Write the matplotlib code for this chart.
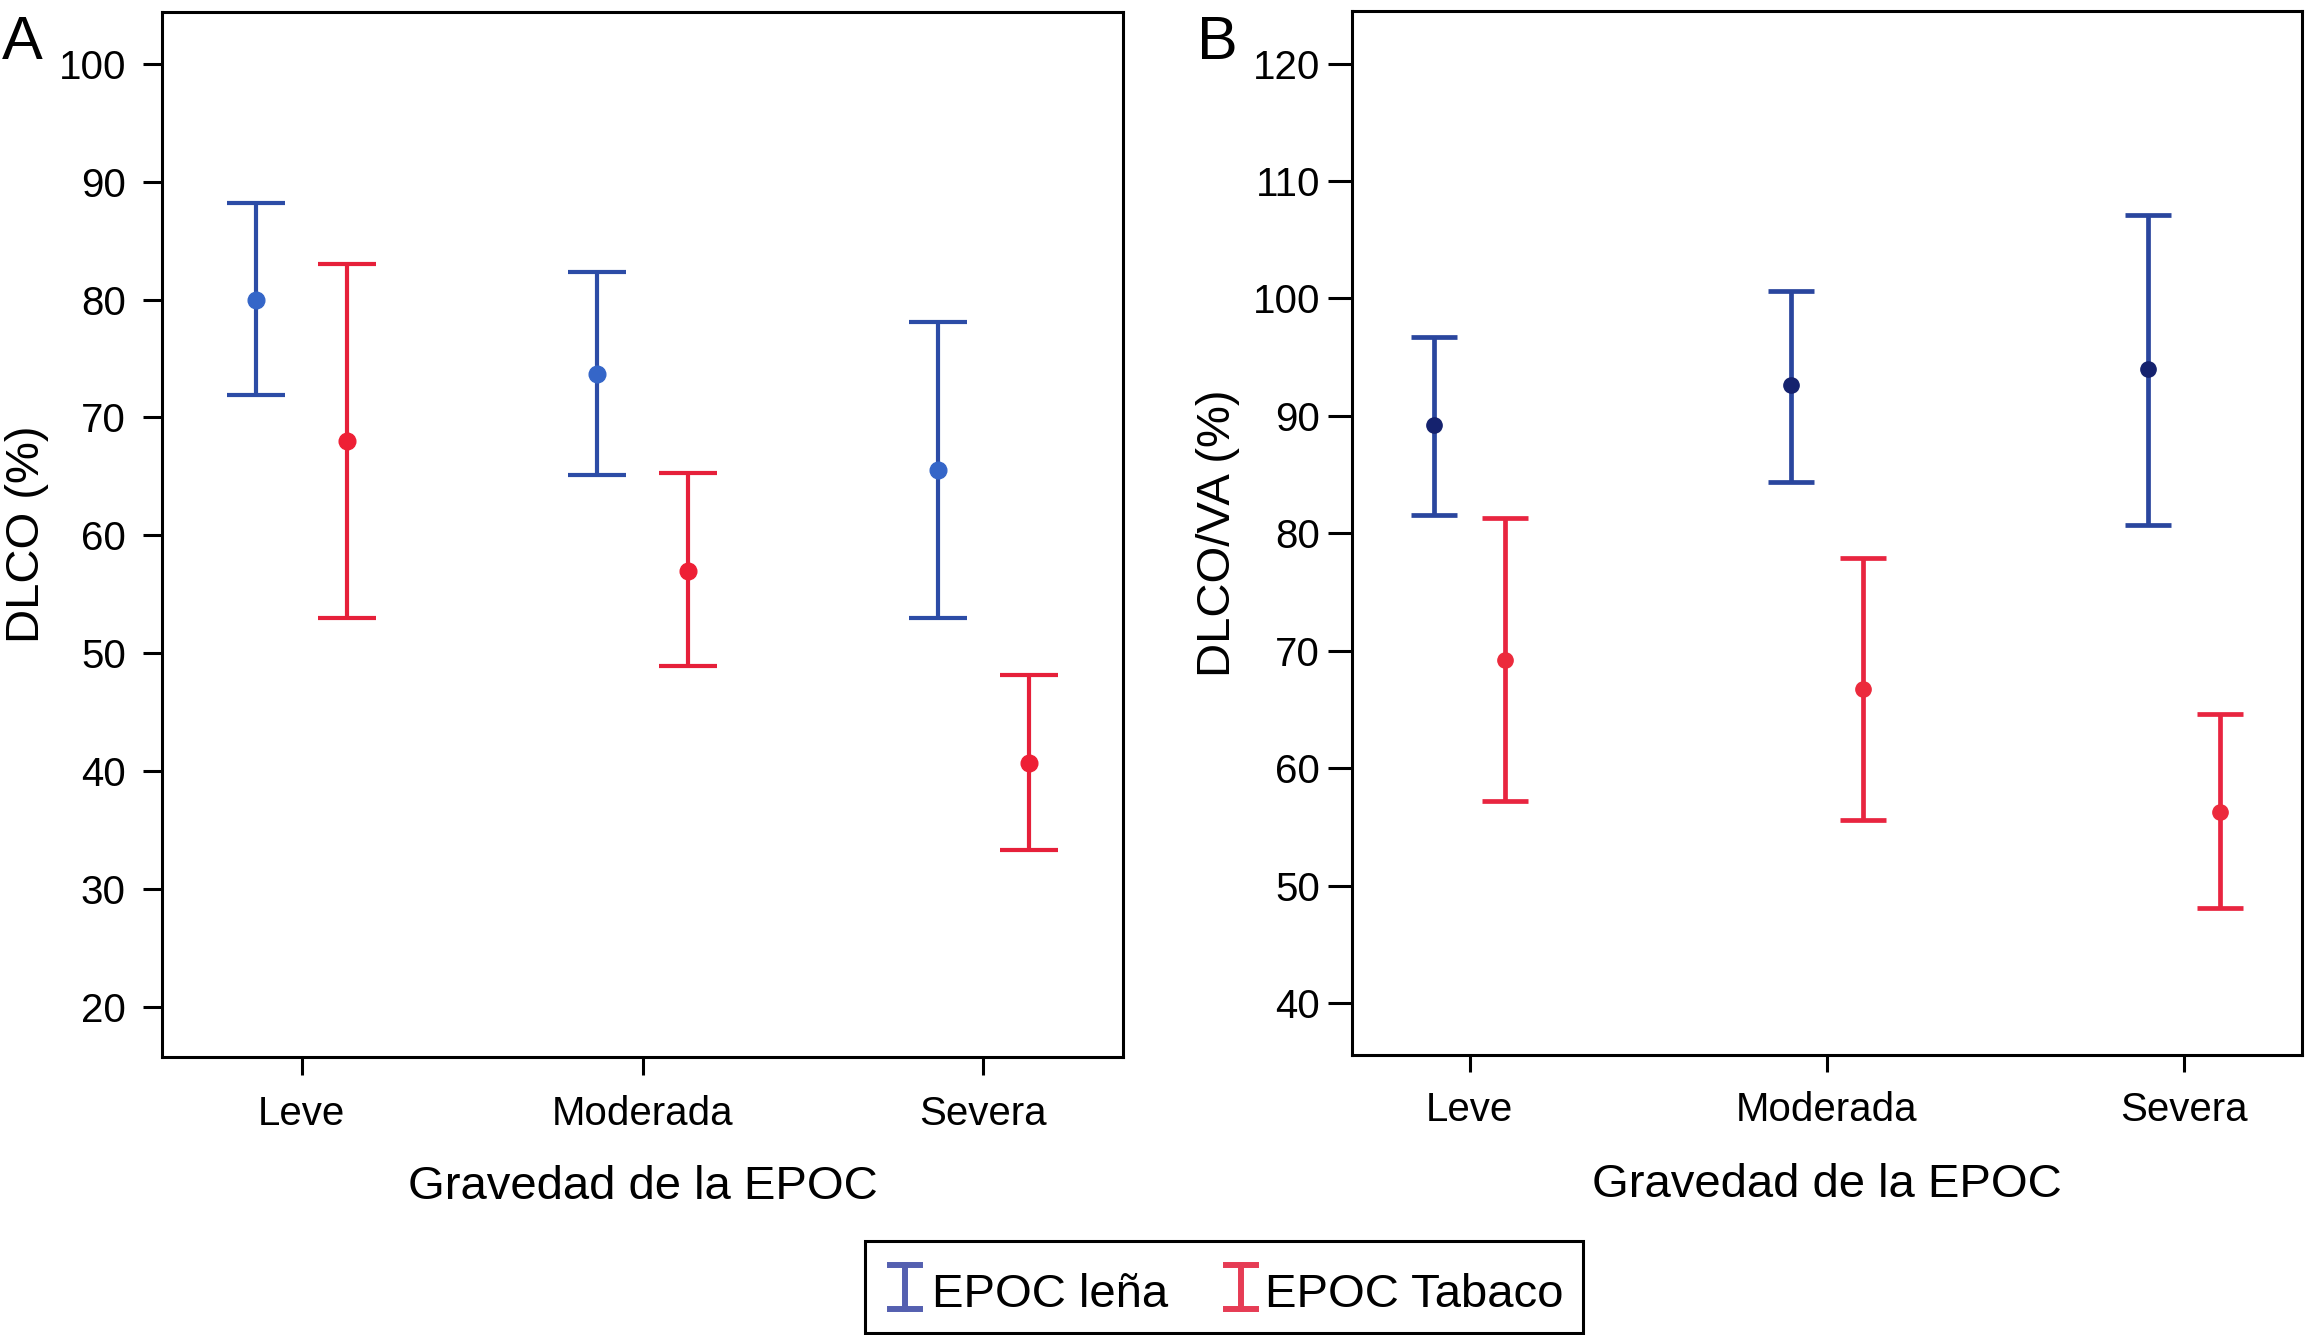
import matplotlib
matplotlib.use("Agg")
import matplotlib.pyplot as plt
from matplotlib.lines import Line2D
from matplotlib.patches import Rectangle
import numpy as np

plt.rcParams['font.family'] = ['Liberation Sans', 'DejaVu Sans']

categories = ["Leve", "Moderada", "Severa"]
series = ["EPOC leña", "EPOC Tabaco"]

# Panel A: DLCO (%)
a_lena_mean = [80.0, 73.7, 65.5]
a_lena_low = [71.9, 65.1, 53.0]
a_lena_high = [88.2, 82.3, 78.1]
a_tab_mean = [68.0, 57.0, 40.7]
a_tab_low = [53.0, 48.9, 33.3]
a_tab_high = [83.0, 65.3, 48.1]

# Panel B: DLCO/VA (%)
b_lena_mean = [89.2, 92.6, 94.0]
b_lena_low = [81.6, 84.4, 80.7]
b_lena_high = [96.7, 100.6, 107.1]
b_tab_mean = [69.2, 66.8, 56.3]
b_tab_low = [57.2, 55.6, 48.1]
b_tab_high = [81.3, 77.9, 64.6]

W, H = 2311, 1335
fig = plt.figure(figsize=(W / 100, H / 100), dpi=100)

axA = fig.add_axes([0.0701, 0.208, 0.486 - 0.0701, 0.991 - 0.208])
axB = fig.add_axes([0.585, 0.2097, 0.996 - 0.585, 0.992 - 0.2097])


def draw(ax, mean1, low1, high1, mean2, low2, high2, off, cap, ms, lw,
         c1, m1, c2, m2):
    x = np.arange(len(categories))
    for xs, mean, low, high, col, mcol in [
            (x - off, mean1, low1, high1, c1, m1),
            (x + off, mean2, low2, high2, c2, m2)]:
        mean = np.array(mean)
        yerr = [mean - np.array(low), np.array(high) - mean]
        ax.errorbar(xs, mean, yerr=yerr, fmt='o', color=mcol, ecolor=col,
                    elinewidth=lw, capsize=cap, capthick=lw, markersize=ms,
                    zorder=3)
    ax.set_xticks(x)
    ax.set_xticklabels(categories, fontsize=29)
    for s in ax.spines.values():
        s.set_linewidth(2.2)
    ax.set_xlabel("Gravedad de la EPOC", fontsize=34)


draw(axA, a_lena_mean, a_lena_low, a_lena_high, a_tab_mean, a_tab_low, a_tab_high,
     0.133, 21, 12, 3.0, '#2c4ca6', '#3566c8', '#e6203a', '#ee1f35')
axA.set_xlim(-0.41, 2.41)
axA.set_ylim(15.7, 104.4)
axA.set_yticks(np.arange(20, 101, 10))
axA.tick_params(axis='y', labelsize=29, length=14, width=2.2, pad=12)
axA.tick_params(axis='x', length=13, width=2.2, pad=14)
axA.set_ylabel("DLCO (%)", fontsize=34, va='center')
axA.yaxis.set_label_coords(-0.14, 0.5)
axA.xaxis.set_label_coords(0.5, -0.103)
axA.xaxis.label.set_va('top')

draw(axB, b_lena_mean, b_lena_low, b_lena_high, b_tab_mean, b_tab_low, b_tab_high,
     0.1, 16.5, 11, 3.4, '#2a469e', '#15226e', '#e82540', '#ec2a3c')
axB.set_xlim(-0.33, 2.33)
axB.set_ylim(35.6, 124.5)
axB.set_yticks(np.arange(40, 121, 10))
axB.tick_params(axis='y', labelsize=29, length=17, width=2.2, pad=6)
axB.tick_params(axis='x', length=12, width=2.2, pad=14)
axB.set_ylabel("DLCO/VA (%)", fontsize=34, va='center')
axB.yaxis.set_label_coords(-0.141, 0.5)
axB.xaxis.set_label_coords(0.5, -0.103)
axB.xaxis.label.set_va('top')

fig.text(0.001, 0.956, "A", fontsize=44, ha='left', va='baseline')
fig.text(0.518, 0.956, "B", fontsize=44, ha='left', va='baseline')

# Legend (drawn manually)
fig.add_artist(Rectangle((0.3743, 0.0015), 0.685 - 0.3743, 0.0704 - 0.0015,
                         transform=fig.transFigure, fill=False,
                         edgecolor='black', linewidth=2.2))
leg_items = [(0.3916, 0.4031, series[0], '#5560b0'),
             (0.5370, 0.5473, series[1], '#e63c55')]
for xc, xt, label, col in leg_items:
    y0, y1 = 0.0195, 0.0524
    hw = 0.0064
    fig.add_artist(Line2D([xc, xc], [y0, y1], transform=fig.transFigure,
                          color=col, linewidth=4.3))
    for yy in (y0, y1):
        fig.add_artist(Line2D([xc - hw, xc + hw], [yy, yy], transform=fig.transFigure,
                              color=col, linewidth=4.3))
    fig.text(xt, 0.021, label, fontsize=34, ha='left', va='baseline')

fig.savefig("out.png", dpi=100)
